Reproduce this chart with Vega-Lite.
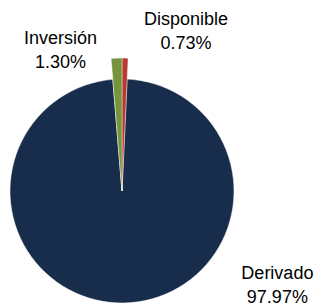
{
  "$schema": "https://vega.github.io/schema/vega-lite/v6.json",
  "autosize": "none",
  "width": 224,
  "height": 224,
  "padding": {"left": 10, "top": 79, "right": 81, "bottom": 5},
  "background": "white",
  "data": {
    "values": [
      {"cat": "Disponible", "value": 0.73, "ord": 1},
      {"cat": "Derivado", "value": 97.97, "ord": 2},
      {"cat": "Inversión", "value": 1.30, "ord": 3}
    ]
  },
  "transform": [
    {"calculate": "[datum.cat, format(datum.value, '.2f') + '%']", "as": "label"}
  ],
  "encoding": {
    "theta": {"field": "value", "type": "quantitative", "stack": true},
    "order": {"field": "ord", "type": "quantitative"},
    "color": {
      "field": "cat",
      "type": "nominal",
      "scale": {"domain": ["Disponible", "Derivado", "Inversión"], "range": ["#b83a30", "#182c4c", "#77933c"]},
      "legend": null
    }
  },
  "layer": [
    {"mark": {"type": "arc", "radius": 112, "stroke": "white", "strokeWidth": 0.5}},
    {
      "mark": {"type": "arc", "radius": 133, "stroke": "white", "strokeWidth": 0.4},
      "encoding": {
        "opacity": {"condition": {"test": "datum.cat === 'Derivado'", "value": 0}, "value": 1}
      }
    },
    {
      "mark": {"type": "text", "radius": 133, "dx": 61, "dy": -38, "font": "Liberation Sans", "fontSize": 18, "lineHeight": 24, "align": "center", "baseline": "middle"},
      "encoding": {"text": {"condition": {"test": "datum.cat === 'Disponible'", "field": "label"}, "value": ""}, "color": {"value": "black"}}
    },
    {
      "mark": {"type": "text", "radius": 133, "dx": -56, "dy": -19, "font": "Liberation Sans", "fontSize": 18, "lineHeight": 24, "align": "center", "baseline": "middle"},
      "encoding": {"text": {"condition": {"test": "datum.cat === 'Inversión'", "field": "label"}, "value": ""}, "color": {"value": "black"}}
    },
    {
      "mark": {"type": "text", "radius": 133, "dx": 153, "dy": -50, "font": "Liberation Sans", "fontSize": 18, "lineHeight": 24, "align": "center", "baseline": "middle"},
      "encoding": {"text": {"condition": {"test": "datum.cat === 'Derivado'", "field": "label"}, "value": ""}, "color": {"value": "black"}}
    }
  ],
  "config": {"view": {"stroke": null}}
}
